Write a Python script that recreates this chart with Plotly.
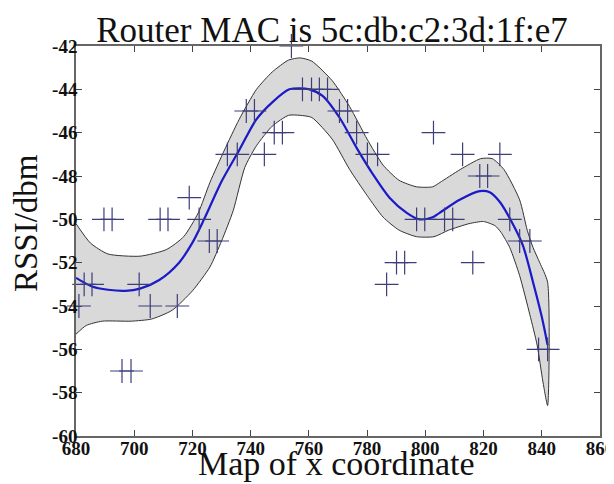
import plotly.graph_objects as go

# ---- data ----
pts_x = [681, 705.5, 714.8,
         682.8, 685.5, 701.7, 786.7,
         695.8, 698.9,
         725.8, 728.5, 832.4, 835.9,
         689.6, 692.4, 708.9, 711.6, 722.3, 797.0, 799.8, 806.6, 809.4, 829.0,
         718.9,
         732.0, 735.4, 744.7, 780.1, 783.6, 812.8, 825.6,
         738.5, 741.3, 770.5, 773.3,
         748.1, 750.9, 776.4, 802.8,
         757.8, 760.9, 763.6, 766.4,
         754.0,
         790.1, 792.9, 816.3,
         818.7, 821.4,
         838.9, 842.0]
pts_y = [-54, -54, -54,
         -53, -53, -53, -53,
         -57, -57,
         -51, -51, -51, -51,
         -50, -50, -50, -50, -50, -50, -50, -50, -50, -50,
         -49,
         -47, -47, -47, -47, -47, -47, -47,
         -45, -45, -45, -45,
         -46, -46, -46, -46,
         -44, -44, -44, -44,
         -42,
         -52, -52, -52,
         -48, -48,
         -56, -56]

fit_x = [680, 685.5, 691, 697, 702, 708.6, 715.4, 719.9, 724, 730.2, 736.1,
         741.9, 747.4, 753.3, 756.7, 760.2, 764.7, 770.5, 776.4, 781.9, 787.7,
         793.6, 798, 802.5, 804.9, 811.8, 818.7, 822.1, 825.6, 830, 833.5,
         837, 840, 842]
fit_y = [-52.7, -53.1, -53.25, -53.3, -53.2, -52.8, -52.0, -51.1, -50.0, -48.2,
         -46.8, -45.4, -44.6, -44.0, -43.95, -44.0, -44.3, -45.3, -46.7, -47.9,
         -49.0, -49.7, -50.0, -49.9, -49.7, -49.1, -48.7, -48.75, -49.2, -50.2,
         -51.2, -52.9, -54.5, -55.8]

upper_x = [680, 685, 691, 702, 711, 717, 722, 726, 731, 736, 742, 747.4, 753,
           757, 761, 768, 774, 780, 785.5, 791, 797, 802.5, 805, 812, 819, 823,
           827, 832.4, 835, 837, 839.3, 842]
upper_y = [-50.2, -51.1, -51.6, -51.7, -51.4, -50.8, -49.7, -48.3, -46.8, -45.4,
           -44.0, -43.2, -42.65, -42.55, -42.7, -43.6, -44.8, -46.3, -47.5, -48.2,
           -48.5, -48.5, -48.3, -47.7, -47.2, -47.2, -47.7, -49.1, -50.5, -51.3,
           -52.0, -52.9]

lower_x = [680, 683.5, 689, 699, 706, 713, 720, 726, 730, 734, 738, 742, 747.4,
           753, 757, 761, 768, 774, 780, 785.5, 791, 797, 803, 808, 815, 820,
           824, 826, 829, 832.4, 835.9, 838.4, 840.4, 842]
lower_y = [-55.3, -54.9, -54.7, -54.7, -54.6, -54.2, -53.3, -52.2, -51.0, -49.6,
           -47.6, -46.6, -45.7, -45.2, -45.2, -45.3, -46.3, -47.7, -48.9, -49.9,
           -50.5, -50.8, -50.8, -50.5, -50.2, -50.1, -50.3, -50.6, -51.3, -52.6,
           -54.4, -55.8, -57.5, -58.6]

x_ticks = [680, 700, 720, 740, 760, 780, 800, 820, 840, 860]
x_labels = ["680", "700", "720", "740", "760", "780", "800", "820", "840", "860"]
y_ticks = [-42, -44, -46, -48, -50, -52, -54, -56, -58, -60]
y_labels = ["-42", "-44", "-46", "-48", "-50", "-52", "-54", "-56", "-58", "-60"]

title_text = "Router MAC is 5c:db:c2:3d:1f:e7"
x_title = "Map of x coordinate"
y_title = "RSSI/dbm"

SERIF = "Liberation Serif"

# the page body has an 8px margin, so the figure is laid out in page
# coordinates shifted by that offset
OFF = 8
FIG_W, FIG_H = 614 - OFF, 484 - OFF
PLOT_TOP, PLOT_BOTTOM, PLOT_LEFT, PLOT_RIGHT = 46, 436, 76, 600  # window px
ph = PLOT_BOTTOM - PLOT_TOP
pw = PLOT_RIGHT - PLOT_LEFT

fig = go.Figure()

band_x = upper_x + lower_x[::-1]
band_y = upper_y + lower_y[::-1]
fig.add_trace(go.Scatter(
    x=band_x, y=band_y, mode="lines", fill="toself",
    fillcolor="#d9d9d9", line=dict(color="#333333", width=1, shape="spline", smoothing=0.6),
    hoverinfo="skip", showlegend=False))

fig.add_trace(go.Scatter(
    x=fit_x, y=fit_y, mode="lines",
    line=dict(color="#1a1ac8", width=2.2, shape="spline", smoothing=0.8),
    showlegend=False))

fig.add_trace(go.Scatter(
    x=pts_x, y=pts_y, mode="markers",
    marker=dict(symbol="cross-thin", size=17,
                line=dict(color="#3d3d7a", width=1.2)),
    cliponaxis=False, showlegend=False))

axis_common = dict(
    showline=True, linecolor="#666666", linewidth=1.5, mirror="ticks",
    ticks="inside", ticklen=6, tickcolor="#444444", tickwidth=1,
    showgrid=False, zeroline=False, automargin=False, ticklabeloverflow="allow",
    tickfont=dict(family=SERIF, size=19, color="#111111", weight="bold"),
)

fig.update_layout(
    width=FIG_W, height=FIG_H,
    margin=dict(l=PLOT_LEFT - OFF, r=614 - PLOT_RIGHT, t=PLOT_TOP - OFF, b=484 - PLOT_BOTTOM),
    paper_bgcolor="white", plot_bgcolor="white",
    title=dict(text=title_text, font=dict(family=SERIF, size=35, color="#111111"),
               x=(332 - PLOT_LEFT) / pw, xref="paper", xanchor="center",
               y=1 - (30 - OFF) / FIG_H, yref="container", yanchor="middle"),
    xaxis=dict(range=[680, 860], tickvals=x_ticks, ticktext=x_labels,
               ticklabelstandoff=-6, **axis_common),
    yaxis=dict(range=[-60, -42], tickvals=y_ticks, ticktext=y_labels,
               ticklabelstandoff=-7, **axis_common),
    annotations=[
        dict(text=x_title, xref="paper", yref="paper",
             x=(336 - PLOT_LEFT) / pw, y=(PLOT_BOTTOM - 484) / ph,
             xanchor="center", yanchor="bottom", showarrow=False,
             font=dict(family=SERIF, size=34, color="#111111")),
        dict(text=y_title, xref="paper", yref="paper", textangle=-90,
             x=(26 - PLOT_LEFT) / pw, y=(PLOT_BOTTOM - 223) / ph,
             xanchor="center", yanchor="middle", showarrow=False,
             font=dict(family=SERIF, size=33, color="#111111")),
    ],
)

fig.write_html("out.html")
